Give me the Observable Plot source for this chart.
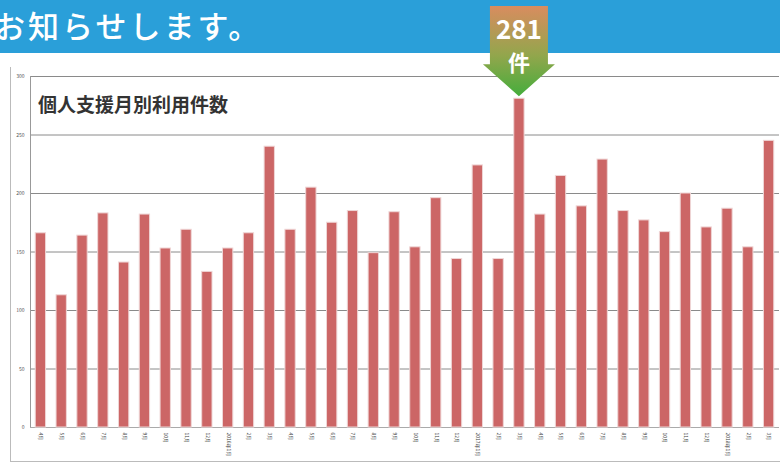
<!DOCTYPE html>
<html><head><meta charset="utf-8">
<script src="https://cdn.jsdelivr.net/npm/d3@7"></script>
<script src="https://cdn.jsdelivr.net/npm/@observablehq/plot@0.6"></script>
<style>
html,body{margin:0;padding:0;background:#fff;overflow:hidden;}
#wrap{position:relative;width:780px;height:467px;font-family:"Noto Sans CJK JP","Noto Sans",sans-serif;}
#band{position:absolute;left:0;top:0;width:780px;height:53px;background:#2a9fd9;}
#band span{position:absolute;left:-6px;top:4px;color:#fff;font-size:31px;font-weight:500;letter-spacing:3px;white-space:nowrap;line-height:42px;}
#outer{position:absolute;left:10px;top:67px;width:780px;height:395px;border-left:1px solid #bbb;border-bottom:1px solid #bbb;box-sizing:border-box;}
#title{position:absolute;left:38px;top:91px;font-size:19px;font-weight:bold;color:#333;white-space:nowrap;line-height:26px;}
#chart{position:absolute;left:0;top:0;}
</style></head>
<body><div id="wrap">
<div id="outer"></div>
<div id="chart"></div>
<div id="band"><span>お知らせします。</span></div>
<div id="title">個人支援月別利用件数</div>
</div>
<script>
const labels = ["4月","5月","6月","7月","8月","9月","10月","11月","12月","2016年1月","2月","3月",
  "4月","5月","6月","7月","8月","9月","10月","11月","12月","2017年1月","2月","3月",
  "4月","5月","6月","7月","8月","9月","10月","11月","12月","2018年1月","2月","3月"];
const values = [166,113,164,183,141,182,153,169,133,153,166,240,
  169,205,175,185,149,184,154,196,144,224,144,281,
  182,215,189,229,185,177,167,200,171,187,154,245];
const yTicks = [0,50,100,150,200,250,300];
const peakLabel = "281";
const peakUnit = "件";

const data = values.map((v,i)=>({i, label: labels[i], v}));
const chart = Plot.plot({
  width: 780, height: 467,
  marginLeft: 30, marginRight: 1, marginTop: 76, marginBottom: 40,
  style: {background: "transparent", fontFamily: "Noto Sans CJK JP, sans-serif", color: "#555"},
  x: {type: "band", domain: d3.range(values.length), paddingInner: 0.6, paddingOuter: 0.3, align: 0.5, round: false},
  y: {domain: [0, 300]},
  marks: [
    Plot.gridY(yTicks.filter(t=>t>0), {stroke: "#8a8a8a", strokeOpacity: 1, strokeWidth: 1}),
    Plot.frame({anchor: "left", stroke: "#999"}),
    Plot.ruleY([0], {stroke: "#aaa"}),
    Plot.barY(data, {x: "i", y: "v", fill: "#cc6666", stroke: "#efd6d6", strokeWidth: 1, insetLeft: -1, insetRight: -1}),
    Plot.axisY({ticks: yTicks, tickSize: 0, tickPadding: 6, fontSize: 5, label: null, fill: "#555"}),
    Plot.axisX({tickSize: 0, tickPadding: 5, tickRotate: 90, fontSize: 5, label: null, tickFormat: i => labels[i], fill: "#444"})
  ]
});
document.getElementById("chart").appendChild(chart);
const sx = chart.scale("x"), sy = chart.scale("y");

// peak arrow annotation, positioned from the scales
const peakIndex = values.indexOf(d3.max(values));
const cx = sx.apply(peakIndex) + sx.bandwidth / 2;
const tipY = sy.apply(values[peakIndex]) - 2;
const ov = d3.select("#wrap").append("svg").attr("width", 780).attr("height", 467)
  .style("position", "absolute").style("left", 0).style("top", 0);
const grad = ov.append("defs").append("linearGradient").attr("id", "ag").attr("x1", 0).attr("x2", 0).attr("y1", 0).attr("y2", 1);
grad.append("stop").attr("offset", "0%").attr("stop-color", "#d98c5f");
grad.append("stop").attr("offset", "55%").attr("stop-color", "#92a64c");
grad.append("stop").attr("offset", "100%").attr("stop-color", "#45ad3c");
const arrowTop = 6, bodyW = 29, headW = 36, headH = 32;
ov.append("path")
  .attr("d", `M${cx-bodyW},${arrowTop} H${cx+bodyW} V${tipY-headH} H${cx+headW} L${cx},${tipY} L${cx-headW},${tipY-headH} H${cx-bodyW} Z`)
  .attr("fill", "url(#ag)");
ov.append("text").attr("x", cx).attr("y", 39).attr("text-anchor", "middle")
  .attr("fill", "#fff").attr("font-weight", "bold").attr("font-size", 26)
  .attr("font-family", "Noto Sans CJK JP, sans-serif").text(peakLabel);
ov.append("text").attr("x", cx).attr("y", 71).attr("text-anchor", "middle")
  .attr("fill", "#fff").attr("font-weight", "bold").attr("font-size", 22)
  .attr("font-family", "Noto Sans CJK JP, sans-serif").text(peakUnit);
</script>
</body></html>
